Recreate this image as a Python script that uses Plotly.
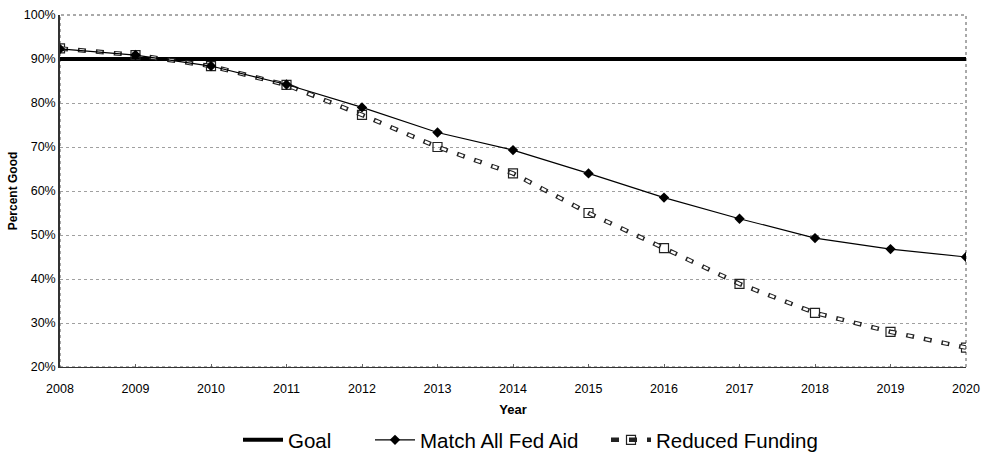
import plotly.graph_objects as go

# Chart data
years = [2008, 2009, 2010, 2011, 2012, 2013, 2014, 2015, 2016, 2017, 2018, 2019, 2020]
goal = [90] * len(years)
match_all_fed_aid = [92.3, 90.9, 88.4, 84.2, 79.0, 73.3, 69.3, 64.0, 58.5, 53.7, 49.3, 46.8, 45.0]
reduced_funding = [92.4, 90.9, 88.4, 84.1, 77.3, 70.0, 64.0, 55.0, 47.0, 38.9, 32.3, 28.0, 24.4]
y_ticks = [20, 30, 40, 50, 60, 70, 80, 90, 100]
y_tick_text = [f"{v}%" for v in y_ticks]

FONT = "Liberation Sans, Arial, sans-serif"
W, H = 986, 459

fig = go.Figure()

fig.add_trace(go.Scatter(
    x=years, y=goal, name="Goal", mode="lines", legend="legend",
    line=dict(color="black", width=4),
))

# Reduced Funding: hollow dashes = thick black dash with a shorter white core
fig.add_trace(go.Scatter(
    x=years, y=reduced_funding, name="Reduced Funding", mode="lines+markers",
    legend="legend3",
    line=dict(color="#222222", width=4.5, dash="8px,10px"),
    marker=dict(symbol="square-open", size=9, color="#222222", line=dict(width=1.2)),
))
fig.add_trace(go.Scatter(
    x=years, y=reduced_funding, mode="lines", showlegend=False, hoverinfo="skip",
    line=dict(color="white", width=2.4, dash="0px,1.5px,5px,11.5px"),
))

fig.add_trace(go.Scatter(
    x=years, y=match_all_fed_aid, name="Match All Fed Aid", mode="lines+markers",
    legend="legend2",
    line=dict(color="black", width=1.2),
    marker=dict(symbol="diamond", size=8, color="black"),
))

# Plot border (dotted on top and right)
fig.add_shape(type="rect", xref="paper", yref="paper", x0=0, y0=0, x1=1, y1=1,
              line=dict(color="#555555", width=1, dash="dot"), layer="below")


def legend_at(px_left):
    return dict(
        orientation="h", xref="container", yref="container",
        x=px_left / W, xanchor="left", y=1 - 440 / H, yanchor="middle",
        font=dict(size=20.5, family=FONT), bgcolor="rgba(0,0,0,0)",
        itemwidth=40,
    )


fig.update_layout(
    width=W, height=H,
    margin=dict(l=60, r=20, t=15, b=92),
    paper_bgcolor="white", plot_bgcolor="white",
    font=dict(family=FONT, color="black", size=12.5),
    showlegend=True,
    legend=legend_at(238),
    legend2=legend_at(370),
    legend3=legend_at(606),
    xaxis=dict(
        range=[2008, 2020], tickmode="array", tickvals=years,
        ticktext=[str(y) for y in years],
        showgrid=False, zeroline=False, automargin=False,
        showline=True, linecolor="#333333", linewidth=1,
        ticks="inside", ticklen=3, tickcolor="#666666",
        ticklabelstandoff=10,
        tickfont=dict(size=12.5, family=FONT),
        title=dict(text="<b>Year</b>", font=dict(size=13, family=FONT), standoff=9),
    ),
    yaxis=dict(
        range=[20, 100], tickmode="array", tickvals=y_ticks, ticktext=y_tick_text,
        showgrid=True, gridcolor="#a0a0a0", gridwidth=1, griddash="dot",
        zeroline=False, showline=True, linecolor="#333333", linewidth=1.5,
        automargin=False, ticks="", tickfont=dict(size=12.5, family=FONT),
        title=dict(text="<b>Percent Good</b>", font=dict(size=12, family=FONT), standoff=4),
    ),
)

fig.write_html("out.html")
